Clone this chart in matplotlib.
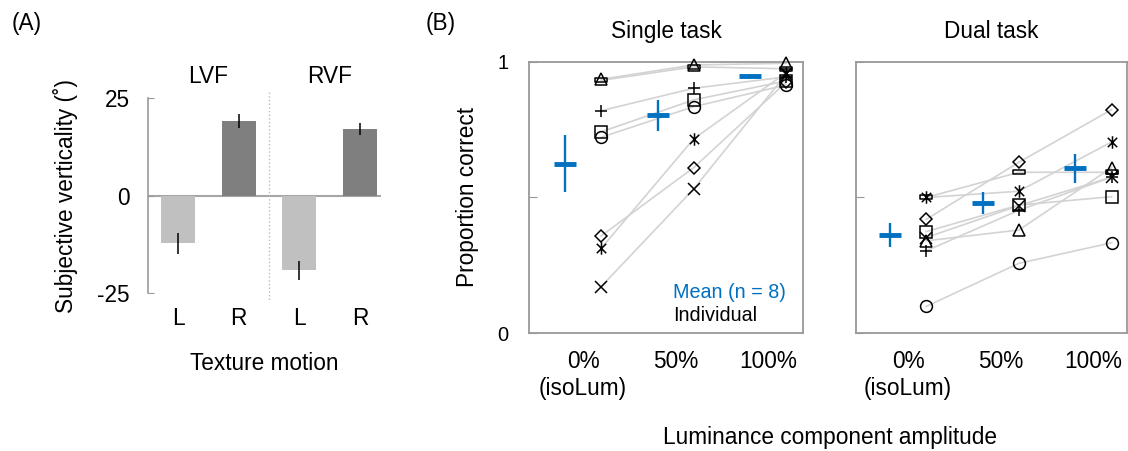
import matplotlib.pyplot as plt
from matplotlib.path import Path

plt.rcParams['font.family'] = ['Liberation Sans', 'DejaVu Sans']
plt.rcParams['axes.unicode_minus'] = False

# Panel A: subjective verticality per visual field and texture motion
bar_labels = ['L', 'R', 'L', 'R']
field_labels = ['LVF', 'RVF']
verticality = [-12.3, 19.0, -19.2, 17.0]
verticality_err = [2.6, 1.8, 2.5, 1.6]

# Panel B: proportion correct at 0%, 50%, 100% luminance amplitude
conditions = ['0%\n(isoLum)', '50%', '100%']
single_mean = [0.624, 0.803, 0.948]
single_err = [0.105, 0.057, 0.005]
dual_mean = [0.361, 0.480, 0.607]
dual_err = [0.045, 0.041, 0.052]

# one row per subject (same order as subject_markers)
subject_markers = ['triangle', 'dash', 'plus', 'square', 'circle', 'star', 'diamond', 'x']
single_individual = [
    [0.936, 0.989, 0.995],
    [0.932, 0.982, 0.975],
    [0.820, 0.903, 0.945],
    [0.742, 0.860, 0.930],
    [0.722, 0.835, 0.915],
    [0.312, 0.716, 0.960],
    [0.358, 0.610, 0.925],
    [0.171, 0.531, 0.955],
]
dual_individual = [
    [0.340, 0.380, 0.610],
    [0.500, 0.593, 0.593],
    [0.303, 0.453, 0.575],
    [0.374, 0.472, 0.503],
    [0.098, 0.257, 0.333],
    [0.500, 0.523, 0.705],
    [0.419, 0.630, 0.824],
    [0.352, 0.470, 0.575],
]

blue = '#0070C0'
frame_gray = '#999999'
fs = 16.3

# Excel-like marker shapes
star_path = Path([(-0.45, -0.45), (0.45, 0.45), (-0.45, 0.45), (0.45, -0.45), (0, -0.6), (0, 0.6)],
                 [Path.MOVETO, Path.LINETO] * 3)
dash_path = Path([(-0.5, -0.13), (0.5, -0.13), (0.5, 0.13), (-0.5, 0.13), (-0.5, -0.13)],
                 [Path.MOVETO, Path.LINETO, Path.LINETO, Path.LINETO, Path.CLOSEPOLY])
marker_style = {
    'triangle': ('^', 8.5),
    'dash': (dash_path, 8.5),
    'plus': ('+', 9),
    'square': ('s', 8),
    'circle': ('o', 8.5),
    'star': (star_path, 9),
    'diamond': ('D', 6.3),
    'x': ('x', 8),
}

fig = plt.figure(figsize=(11.28, 4.51), dpi=100)

# ---------------- Panel A ----------------
axA = fig.add_axes([0.1312, 0.3503, 0.2066, 0.4324])
xs = range(len(verticality))
colors = ['#C0C0C0', '#7F7F7F'] * 2
axA.bar(xs, verticality, width=0.56, color=colors, zorder=2)
axA.errorbar(xs, verticality, yerr=verticality_err, fmt='none', ecolor='black',
             elinewidth=1.1, capsize=0, zorder=3)
axA.axhline(0, color='#A6A6A6', lw=1.5, zorder=1)
axA.plot([1.5, 1.5], [26.5, -26.8], color='#BBBBBB', lw=1, ls=':', clip_on=False)
for k, lab in enumerate(field_labels):
    axA.text(0.5 + 2 * k, 30.4, lab, ha='center', va='center', fontsize=fs)
axA.set_xlim(-0.494, 3.35)
axA.set_ylim(-25, 25)
axA.set_yticks([-25, 0, 25])
axA.set_xticks(list(xs))
axA.set_xticklabels(bar_labels, fontsize=fs)
axA.tick_params(axis='x', length=0, pad=10)
axA.tick_params(axis='y', direction='in', length=4, color=frame_gray, labelsize=fs, pad=13)
for s in ['top', 'right', 'bottom']:
    axA.spines[s].set_visible(False)
axA.spines['left'].set_color(frame_gray)
axA.spines['left'].set_linewidth(1.2)
axA.set_ylabel('Subjective verticality (˚)', fontsize=fs, labelpad=14)
axA.set_xlabel('Texture motion', fontsize=fs, labelpad=16)


# ---------------- Panel B ----------------
def draw_task(ax, individual, mean, err, title, xlim):
    off = 0.195
    for subj, vals in zip(subject_markers, individual):
        m, ms = marker_style[subj]
        xpos = [i + off for i in range(len(vals))]
        ax.plot(xpos, vals, color='#D3D3D3', lw=1.2, zorder=1)
        ax.plot(xpos, vals, ls='none', marker=m, ms=ms, mfc='none', mec='black',
                mew=1.1, zorder=3, clip_on=False)
    xm = [i - off for i in range(len(mean))]
    ax.errorbar(xm, mean, yerr=err, fmt='none', ecolor=blue, elinewidth=1.7, capsize=0, zorder=4)
    ax.plot(xm, mean, ls='none', marker='_', ms=15.5, mew=3.5, color=blue, zorder=4)
    ax.set_xlim(*xlim)
    ax.set_ylim(0, 1)
    ax.set_xticks(range(len(conditions)))
    ax.set_xticklabels(conditions, fontsize=fs, linespacing=1.25)
    ax.tick_params(axis='x', length=0, pad=12)
    ax.set_yticks([0, 0.5, 1])
    ax.tick_params(axis='y', direction='in', length=5.5, color=frame_gray, labelsize=14.5, pad=15)
    for s in ax.spines.values():
        s.set_color(frame_gray)
        s.set_linewidth(1.3)
    ax.set_title(title, fontsize=fs, pad=17)


axS = fig.add_axes([0.469, 0.2616, 0.2429, 0.601])
draw_task(axS, single_individual, single_mean, single_err, 'Single task', (-0.584, 2.378))
axS.set_yticklabels(['0', '', '1'])
axS.set_ylabel('Proportion correct', fontsize=fs, labelpad=13)
axS.text(0.526, 0.151, 'Mean (n = 8)', transform=axS.transAxes, color=blue,
         fontsize=14.2, va='center')
axS.text(0.526, 0.063, 'Individual', transform=axS.transAxes, color='black',
         fontsize=14.2, va='center')

axD = fig.add_axes([0.7589, 0.2616, 0.2402, 0.601])
draw_task(axD, dual_individual, dual_mean, dual_err, 'Dual task', (-0.561, 2.361))
axD.set_yticklabels(['', '', ''])

fig.text(0.736, 0.031, 'Luminance component amplitude', ha='center', va='center', fontsize=fs)
fig.text(0.024, 0.947, '(A)', ha='center', va='center', fontsize=fs)
fig.text(0.391, 0.947, '(B)', ha='center', va='center', fontsize=fs)

plt.savefig('out.png', dpi=100)
